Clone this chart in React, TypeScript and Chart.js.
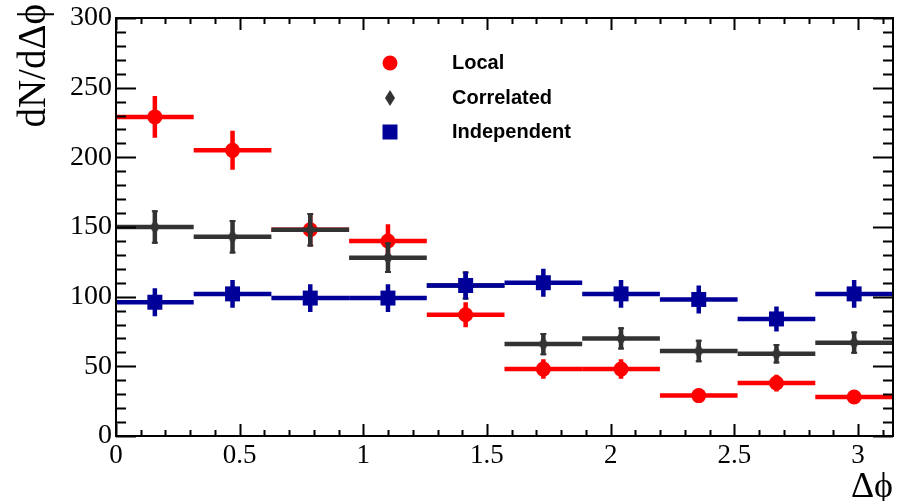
import { useEffect, useRef } from "react";
import { Chart, registerables } from "chart.js";

Chart.register(...registerables);

// ---- data ----
const binCenters = [0.1571, 0.4712, 0.7854, 1.0996, 1.4137, 1.7279, 2.042, 2.3562, 2.6704, 2.9845];
const binHalfWidth = 0.15708;
const xMax = 3.1416;

const localValues = [229, 205, 148, 140, 87, 48, 48, 29, 38, 28];
const localErrors = [15, 14, 12, 12, 9, 7, 7, 5, 6, 5];

const correlatedValues = [150, 143, 148, 128, 108, 66, 70, 61, 59, 67];
const correlatedErrors = [12, 12, 12, 11, 10, 8, 8, 8, 7, 8];

const independentValues = [96, 102, 99, 99, 108, 110, 102, 98, 84, 102];
const independentErrors = [10, 10, 10, 10, 10, 10, 10, 10, 9, 10];

const xTickValues = [0, 0.5, 1, 1.5, 2, 2.5, 3];
const yTickValues = [0, 50, 100, 150, 200, 250, 300];

const seriesLabels = ["Local", "Correlated", "Independent"];
const seriesColors = ["#ff0000", "#333333", "#000099"];
const yTitle = "dN/dΔϕ";
const xTitle = "Δϕ";

const SERIF = "'Liberation Serif', 'Times New Roman', serif";
const SANS = "'Liberation Sans', Arial, sans-serif";

function makeDiamond(color: string, w: number, h: number) {
  const c = document.createElement("canvas");
  c.width = w;
  c.height = h;
  const g = c.getContext("2d")!;
  g.fillStyle = color;
  g.beginPath();
  g.moveTo(w / 2, 0);
  g.lineTo(w, h / 2);
  g.lineTo(w / 2, h);
  g.lineTo(0, h / 2);
  g.closePath();
  g.fill();
  return c;
}

const errorsBySeries = [localErrors, correlatedErrors, independentErrors];

const errorBarPlugin = {
  id: "errorBars",
  beforeDatasetDraw(chart: any, args: any) {
    const idx = args.index;
    const ds = chart.data.datasets[idx];
    const errs = errorsBySeries[idx];
    const xs = chart.scales.x;
    const ys = chart.scales.y;
    const ctx = chart.ctx;
    const area = chart.chartArea;
    ctx.save();
    ctx.beginPath();
    ctx.rect(area.left, area.top, area.right - area.left, area.bottom - area.top);
    ctx.clip();
    ctx.strokeStyle = ds.borderColor;
    ctx.lineWidth = 4.5;
    ctx.lineCap = "butt";
    ds.data.forEach((pt: any, i: number) => {
      const x0 = xs.getPixelForValue(pt.x - binHalfWidth);
      const x1 = xs.getPixelForValue(pt.x + binHalfWidth);
      const xc = xs.getPixelForValue(pt.x);
      const yc = ys.getPixelForValue(pt.y);
      const yTop = ys.getPixelForValue(pt.y + errs[i]);
      const yBot = ys.getPixelForValue(pt.y - errs[i]);
      ctx.beginPath();
      ctx.moveTo(x0, yc);
      ctx.lineTo(x1, yc);
      ctx.moveTo(xc, yTop);
      ctx.lineTo(xc, yBot);
      ctx.stroke();
      if (idx === 1) {
        ctx.save();
        ctx.lineWidth = 2;
        ctx.beginPath();
        ctx.moveTo(xc - 3, yTop + 1);
        ctx.lineTo(xc + 3, yTop + 1);
        ctx.moveTo(xc - 3, yBot - 1);
        ctx.lineTo(xc + 3, yBot - 1);
        ctx.stroke();
        ctx.restore();
      }
    });
    ctx.restore();
  },
};

const framePlugin = {
  id: "frameTicks",
  afterDatasetsDraw(chart: any) {
    const ctx = chart.ctx;
    const { left, right, top, bottom } = chart.chartArea;
    const xs = chart.scales.x;
    const ys = chart.scales.y;
    ctx.save();
    ctx.strokeStyle = "#000";
    ctx.lineWidth = 2;
    ctx.strokeRect(left, top, right - left, bottom - top);
    ctx.beginPath();
    // x ticks (minor every 0.1, major every 0.5)
    for (let k = 0; k <= 31; k++) {
      const v = k / 10;
      if (v > xMax) break;
      const px = Math.round(xs.getPixelForValue(v)) + 0.5;
      const len = k % 5 === 0 ? 12 : 6;
      ctx.moveTo(px, bottom);
      ctx.lineTo(px, bottom - len);
      ctx.moveTo(px, top);
      ctx.lineTo(px, top + len);
    }
    // y ticks (minor every 10, major every 50)
    for (let k = 0; k <= 30; k++) {
      const v = k * 10;
      const py = Math.round(ys.getPixelForValue(v)) + 0.5;
      const len = k % 5 === 0 ? 20 : 10;
      ctx.moveTo(left, py);
      ctx.lineTo(left + len, py);
      ctx.moveTo(right, py);
      ctx.lineTo(right - len, py);
    }
    ctx.stroke();
    ctx.restore();
  },
  afterDraw(chart: any) {
    const ctx = chart.ctx;
    const rows = [63, 98, 132];
    const mx = 390;
    const tx = 452;
    ctx.save();
    chart.data.datasets.forEach((ds: any, i: number) => {
      const y = rows[i];
      ctx.fillStyle = ds.backgroundColor;
      if (i === 0) {
        ctx.beginPath();
        ctx.arc(mx, y, 7.5, 0, Math.PI * 2);
        ctx.fill();
      } else if (i === 1) {
        ctx.beginPath();
        ctx.moveTo(mx, y - 8);
        ctx.lineTo(mx + 5, y);
        ctx.lineTo(mx, y + 8);
        ctx.lineTo(mx - 5, y);
        ctx.closePath();
        ctx.fill();
      } else {
        ctx.fillRect(mx - 7.5, y - 7.5, 15, 15);
      }
      ctx.fillStyle = "#000";
      ctx.font = `bold 20px ${SANS}`;
      ctx.textBaseline = "middle";
      ctx.textAlign = "left";
      ctx.fillText(ds.label, tx, y);
    });
    // y-axis title (ROOT style: top aligned, slightly above the frame)
    ctx.save();
    ctx.translate(35, 4);
    ctx.rotate(-Math.PI / 2);
    ctx.font = `39px ${SERIF}`;
    ctx.fillStyle = "#000";
    ctx.textAlign = "right";
    ctx.textBaseline = "middle";
    ctx.fillText(yTitle, 0, 0);
    ctx.restore();
    ctx.restore();
  },
};

export default function App() {
  const ref = useRef<HTMLCanvasElement | null>(null);

  useEffect(() => {
    document.body.style.margin = "0";
    const canvas = ref.current;
    if (!canvas) return;
    const diamond = makeDiamond(seriesColors[1], 10, 15);
    const mk = (vals: number[]) => vals.map((v, i) => ({ x: binCenters[i], y: v }));
    const chart = new Chart(canvas, {
      type: "scatter",
      data: {
        datasets: [
          {
            label: seriesLabels[0],
            data: mk(localValues),
            backgroundColor: seriesColors[0],
            borderColor: seriesColors[0],
            pointStyle: "circle",
            pointRadius: 7.5,
            pointBorderWidth: 0,
            order: 2,
          },
          {
            label: seriesLabels[1],
            data: mk(correlatedValues),
            backgroundColor: seriesColors[1],
            borderColor: seriesColors[1],
            pointStyle: diamond as any,
            pointRadius: 8,
            pointBorderWidth: 0,
            order: 1,
          },
          {
            label: seriesLabels[2],
            data: mk(independentValues),
            backgroundColor: seriesColors[2],
            borderColor: seriesColors[2],
            pointStyle: "rect",
            pointRadius: 10.6,
            pointBorderWidth: 0,
            order: 0,
          },
        ],
      },
      options: {
        responsive: false,
        animation: false,
        devicePixelRatio: 1,
        layout: { autoPadding: false, padding: { top: 18, right: 4, left: 0, bottom: 0 } },
        plugins: {
          legend: { display: false },
          tooltip: { enabled: false },
        },
        scales: {
          x: {
            type: "linear",
            min: 0,
            max: xMax,
            grid: { display: false, drawTicks: false },
            border: { display: false },
            afterBuildTicks: (s: any) => {
              s.ticks = xTickValues.map((v) => ({ value: v }));
            },
            afterFit: (s: any) => {
              s.height = 65;
              s.paddingLeft = 0;
              s.paddingRight = 0;
            },
            ticks: {
              color: "#000",
              font: { family: SERIF, size: 27 },
              padding: 4,
              maxRotation: 0,
              autoSkip: false,
              callback: (v: any) => String(v),
            },
            title: {
              display: true,
              text: xTitle,
              align: "end",
              color: "#000",
              font: { family: SERIF, size: 36 },
              padding: { top: 0, bottom: -8 },
            },
          },
          y: {
            type: "linear",
            min: 0,
            max: 300,
            grid: { display: false, drawTicks: false },
            border: { display: false },
            afterBuildTicks: (s: any) => {
              s.ticks = yTickValues.map((v) => ({ value: v }));
            },
            afterFit: (s: any) => {
              s.width = 116;
              s.paddingTop = 0;
              s.paddingBottom = 0;
            },
            ticks: {
              color: "#000",
              font: { family: SERIF, size: 28 },
              padding: 4,
              autoSkip: false,
              callback: (v: any) => String(v),
            },
            title: { display: false },
          },
        },
      },
      plugins: [errorBarPlugin, framePlugin],
    } as any);
    return () => chart.destroy();
  }, []);

  return <canvas ref={ref} width={897} height={501} style={{ display: "block" }} />;
}
